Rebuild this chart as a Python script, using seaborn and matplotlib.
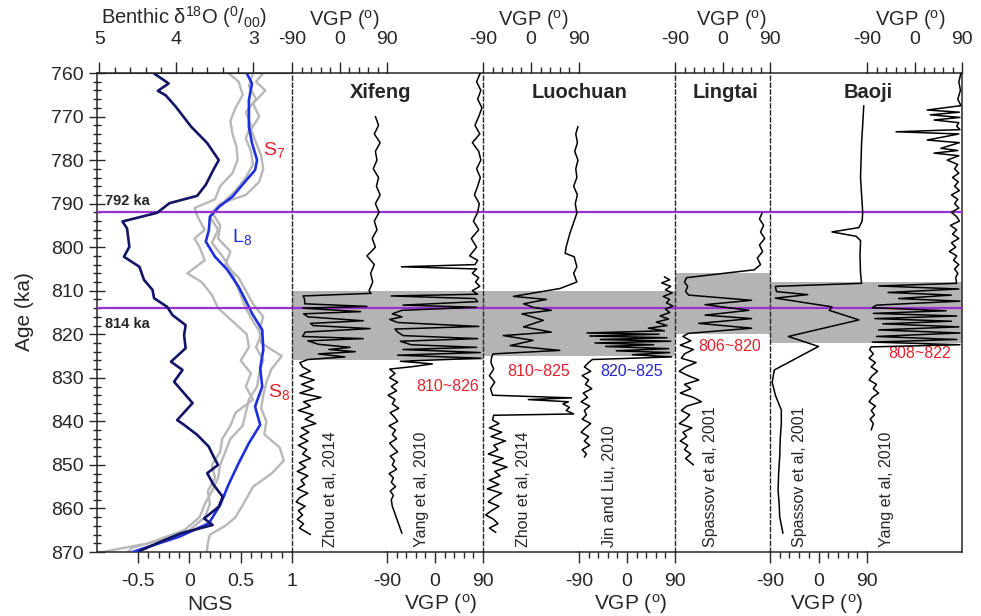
import numpy as np
import matplotlib
matplotlib.use('Agg')
import matplotlib.pyplot as plt
import seaborn as sns
from matplotlib.ticker import FixedLocator

sns.set_style('ticks')
plt.rcParams['font.family'] = ['Liberation Sans', 'DejaVu Sans']
plt.rcParams['mathtext.fontset'] = 'custom'
plt.rcParams['mathtext.rm'] = 'Liberation Sans'
plt.rcParams['mathtext.it'] = 'Liberation Sans:italic'
plt.rcParams['mathtext.bf'] = 'Liberation Sans:bold'
plt.rcParams['axes.unicode_minus'] = False

# ---- benthic d18O (top axis of left panel)
benthic_age = [760.1, 762.4, 764.1, 765.1, 767.7, 772.3, 776.1, 780.0, 781.9, 785.7, 788.2, 789.9,
               792.1, 794.1, 795.7, 799.9, 802.2, 804.5, 807.5, 809.8, 811.7, 813.7, 815.6, 817.9,
               820.2, 823.2, 826.3, 828.2, 830.9, 835.8, 839.7, 840.8, 843.1, 845.8, 848.0, 850.0,
               851.9, 854.5, 857.3, 859.6, 862.3, 863.8, 865.7, 867.6, 869.8]
benthic_d18o = [4.29, 4.10, 4.24, 4.14, 4.01, 3.81, 3.60, 3.45, 3.51, 3.62, 3.73, 4.09,
                4.25, 4.70, 4.64, 4.61, 4.68, 4.48, 4.42, 4.31, 4.29, 4.12, 4.05, 3.88,
                3.90, 3.88, 4.07, 3.92, 4.03, 3.79, 3.99, 3.90, 3.73, 3.58, 3.52, 3.46,
                3.60, 3.52, 3.40, 3.45, 3.64, 3.53, 3.94, 4.20, 4.48]

# ---- NGS stack (blue) and individual records (gray)
ngs_age = [760.1, 762.4, 766.2, 772.3, 776.1, 780.0, 782.3, 785.3, 788.4, 790.7, 793.0, 796.1,
           798.7, 802.2, 805.2, 809.1, 813.7, 815.2, 819.0, 823.6, 827.8, 832.0, 836.6, 840.8,
           845.0, 849.6, 854.6, 859.2, 863.4, 866.5, 869.5, 870.0]
ngs_mean = [0.56, 0.61, 0.58, 0.58, 0.61, 0.66, 0.64, 0.53, 0.42, 0.29, 0.20, 0.19,
            0.16, 0.25, 0.37, 0.48, 0.58, 0.61, 0.71, 0.72, 0.69, 0.71, 0.64, 0.69,
            0.58, 0.48, 0.38, 0.30, 0.19, -0.10, -0.49, -0.55]

gray1_age = [760, 762, 765, 768, 771, 774, 777, 780, 783, 786, 789, 791, 793, 796, 798, 800,
             803, 806, 808, 811, 814, 817, 820, 823, 826, 829, 832, 835, 838, 841, 844, 847,
             850, 853, 856, 859, 862, 865, 867, 869, 870]
gray1_ngs = [0.38, 0.48, 0.52, 0.45, 0.40, 0.42, 0.46, 0.47, 0.42, 0.30, 0.25, 0.05, 0.08,
             0.15, 0.05, 0.10, 0.15, -0.02, 0.12, 0.22, 0.28, 0.42, 0.56, 0.58, 0.50, 0.60,
             0.55, 0.62, 0.45, 0.40, 0.32, 0.30, 0.22, 0.25, 0.18, 0.20, 0.15, 0.00, -0.25,
             -0.55, -0.60]
gray2_age = [760, 762, 764, 767, 770, 773, 776, 779, 782, 785, 788, 790, 792, 795, 798, 801,
             804, 807, 810, 813, 816, 819, 822, 825, 828, 831, 834, 837, 840, 843, 846, 849,
             852, 855, 858, 860, 862, 864, 866, 868, 870]
gray2_ngs = [0.72, 0.65, 0.74, 0.62, 0.68, 0.60, 0.65, 0.70, 0.72, 0.68, 0.55, 0.30, 0.22,
             0.30, 0.28, 0.40, 0.35, 0.48, 0.55, 0.62, 0.72, 0.68, 0.70, 0.90, 0.80, 0.75,
             0.72, 0.70, 0.75, 0.73, 0.88, 0.92, 0.80, 0.62, 0.55, 0.50, 0.45, 0.35, 0.20,
             0.18, 0.17]
gray3_age = [760, 763, 766, 769, 772, 775, 778, 781, 784, 787, 790, 793, 796, 799, 802, 805,
             808, 811, 814, 817, 820, 823, 826, 829, 832, 835, 838, 841, 844, 847, 850, 853,
             856, 859, 862, 865, 868, 870]
gray3_ngs = [0.62, 0.58, 0.65, 0.55, 0.60, 0.55, 0.60, 0.62, 0.55, 0.45, 0.32, 0.20, 0.28,
             0.22, 0.32, 0.40, 0.45, 0.50, 0.55, 0.62, 0.70, 0.65, 0.72, 0.68, 0.66, 0.58,
             0.55, 0.52, 0.40, 0.35, 0.30, 0.28, 0.22, 0.15, 0.10, -0.05, -0.40, -0.85]

# ---- VGP records
xifeng_zhou_age = [770.0, 772, 774, 776, 778, 780, 782, 784, 786, 788, 790, 792, 794, 796, 798,
                   800, 802, 804, 806, 808, 810, 810.6, 811.2, 812.0, 813.0, 813.6, 814.0,
                   814.8, 815.3, 816.0, 816.9, 817.5, 818.0, 818.7, 819.5, 820.5, 821.0, 821.5,
                   822.3, 823.0, 823.5, 824.0, 824.5, 825.2, 825.8, 826.5, 827.5, 828.5, 829.5,
                   830.5, 831.5, 832.5, 833.5, 834.5, 835.5, 836.5, 837.5, 838.5, 839.5, 840.5,
                   841.5, 842.5, 843.5, 844.5, 845.5, 846.5, 847.5, 848.5, 849.5, 850.5, 851.5,
                   852.5, 853.5, 854.5, 855.5, 856.5, 857.5, 858.5, 859.5, 860.5, 861.5, 862.5,
                   863.5, 864.5, 866.0]
xifeng_zhou_vgp = [68, 74, 66, 77, 68, 71, 64, 74, 70, 77, 68, 75, 66, 71, 62,
                   68, 52, 66, 59, 63, 56, 60, -69, -66, -66, 52, -70,
                   40, -68, -60, 45, -55, -50, 58, -65, -70, 45, -60,
                   -40, 20, -20, 30, -40, 10, -60, -75, -70, -55, -75,
                   -48, -72, -50, -75, -35, -68, -55, -78, -50, -65, -45,
                   -72, -58, -75, -60, -78, -62, -70, -55, -76, -64, -80,
                   -60, -73, -66, -80, -60, -75, -82, -65, -78, -70, -80,
                   -68, -76, -55]

xifeng_yang_age = [760, 762, 764, 766, 768, 770, 772, 774, 776, 778, 780, 782, 784, 786, 788,
                   790, 792, 794, 796, 798, 800, 802, 803, 804, 804.5, 805, 806, 807, 808, 809,
                   810, 810.8, 811.2, 811.8, 812.5, 813.3, 813.8, 814.5, 815.3, 816.0, 816.6,
                   817.3, 818.2, 818.8, 819.5, 820.3, 821.0, 821.6, 822.4, 823.0, 823.5, 824.2,
                   824.8, 825.5, 826.2, 826.8, 827.4, 828, 829, 830, 831, 832, 833, 834, 835,
                   836, 837, 838, 839, 840, 841, 842, 843, 844, 845, 846, 847, 848, 849, 850,
                   851, 852, 853, 854, 855, 856, 857, 858, 859.5, 865.7]
xifeng_yang_vgp = [85, 78, 86, 80, 88, 82, 75, 84, 70, 82, 86, 78, 85, 80, 74,
                   83, 80, 72, 82, 68, 78, 65, 80, 75, -63, 78, 70, 82, 76, 84,
                   70, 80, -82, 75, 80, -60, 78, -62, -80, -62, -85,
                   -70, 82, -75, -70, -60, 80, -65, -45, 78, -60, 85,
                   -70, 86, -65, -5, -40, -85, -75, -85, -70, -82, -72, -88, -75,
                   -80, -68, -84, -76, -70, -86, -74, -80, -72, -85, -78, -70, -84, -76, -80,
                   -72, -86, -78, -82, -74, -84, -78, -82, -80, -62]

luochuan_zhou_age = [772.3, 774, 776, 778, 780, 782, 784, 786, 788, 790, 792.2, 796.8, 799.9,
                     801.4, 802.2, 804.5, 806.0, 808.0, 809.5, 810.2, 811.3, 812.0, 813.0,
                     813.8, 814.5, 815.3, 816.8, 818.3, 819.5, 820.3, 821.4, 822.6, 823.7,
                     824.5, 825.3, 826.5, 828, 829.5, 831, 832.5, 834.0, 834.6, 835.0, 835.5,
                     836.0, 836.8, 837.5, 838.3, 838.6, 839.7, 840.5, 841.5, 842.5, 843.5,
                     844.5, 845.5, 846.5, 847.5, 848.5, 849.5, 850.5, 851.5, 852.5, 853.5,
                     854.5, 855.5, 856.5, 857.5, 858.5, 859.5, 860.5, 861.5, 862.5, 863.5,
                     864.5, 865.5]
luochuan_zhou_vgp = [88, 84, 87, 82, 88, 84, 86, 80, 87, 83, 86, 73, 66,
                     64, 81, 86, 80, 86, 54, 20, -33, 29, -14,
                     4, 38, -17, 23, -14, 38, -52, 4, -39, 54,
                     -71, -74, -75, -70, -78, -68, -76, -72, 76, -5, 70,
                     60, 72, 66, 80, -70, -72, -60, -78, -55, -75,
                     -48, -70, -62, -80, -52, -72, -45, -68, -58, -78,
                     -60, -82, -55, -70, -80, -60, -74, -85, -70, -62,
                     -78, -66]

luochuan_jin_age = [806.8, 807.5, 808.2, 809.0, 809.8, 810.5, 811.3, 812.0, 812.8, 813.5, 814.2,
                    815.0, 815.8, 816.5, 817.2, 818.0, 818.6, 819.2, 819.7, 820.0, 820.4, 820.8,
                    821.2, 821.6, 822.0, 822.4, 822.8, 823.3, 823.8, 824.2, 824.7, 825.2, 825.8,
                    826.5, 827.5, 828.5, 829.5, 830.5, 831.5, 832.5, 833.5, 834.5, 835.5, 836.5,
                    837.5, 838.5, 839.5, 840.5, 841.5, 842.5, 843.5, 844.5, 845.5, 846.5, 847.5,
                    848.2]
luochuan_jin_vgp = [70, 80, 65, 82, 72, 85, 68, 80, 74, 86, 72,
                    80, 62, 78, 55, 75, 40, 70, -75, 60, -70, 75,
                    -50, 82, -60, 50, -40, 78, -20, 80, 10, 84, -65,
                    -72, -80, -68, -84, -72, -78, -66, -82, -74, -86, -70,
                    -80, -76, -84, -68, -78, -86, -72, -80, -70, -84, -76,
                    -80]

lingtai_age = [792.2, 793.5, 795, 796.5, 798, 799.5, 801, 802.5, 804, 805.2, 807.0, 808.0, 809.0,
               810.2, 811.0, 812.2, 813.2, 814.5, 815.6, 816.4, 817.5, 818.6, 819.8, 820.5,
               821.5, 822.5, 823.5, 824.5, 825.5, 826.5, 827.5, 828.5, 829.5, 830.5, 831.5,
               832.5, 833.5, 834.5, 835.5, 836.5, 837.5, 838.5, 839.5, 840.5, 841.5, 842.5,
               843.5, 844.5, 845.5, 846.5, 847.5, 848.5, 850.0]
lingtai_vgp = [75, 70, 78, 72, 80, 70, 76, 66, 72, 60, -68, -72, -66,
               -70, -64, 55, -33, 50, -33, 55, -45, 55, -65, -75,
               -60, -80, -55, -72, -78, -50, -70, -82, -65, -45, -72,
               -60, -80, -55, -40, -68, -78, -62, -70, -82, -58, -75,
               -68, -80, -66, -72, -60, -70, -55]

baoji_spassov_age = [767.5, 772, 776, 780, 784, 788, 792, 794, 795.5, 796.5, 797.5, 798.5, 802,
                     806, 808.3, 809.0, 810.2, 810.9, 811.7, 813.7, 814.5, 816.7, 820.5, 822.8,
                     828.2, 831, 834, 837.4, 840.4, 844, 848.1, 852, 855.8, 859, 861.9, 865.7]
baoji_spassov_vgp = [84, 82, 80, 79, 78, 80, 82, 81, 75, 25, 70, 78, 77,
                     78, 80, -80, -78, -20, -80, 25, 20, 75, -56, 0,
                     -82, -86, -80, -69, -69, -71, -72, -74, -75, -73, -72, -66]

baoji_yang_age = [760, 762, 764, 766, 767.5, 768.5, 769.0, 769.6, 770.2, 770.8, 771.4, 772.2,
                  773.0, 773.5, 774.0, 775.4, 776.0, 777.3, 777.8, 778.4, 779.0, 780.0, 781,
                  782, 783, 784, 785, 786, 787, 788, 789, 790, 791, 792, 793, 794, 795, 796,
                  797, 798, 799, 800, 801, 802, 803, 804, 805, 806, 807, 808.3, 808.9, 809.6,
                  810.4, 811.0, 811.8, 812.4, 813.3, 813.9, 814.6, 815.2, 815.8, 816.4, 817.0,
                  817.6, 818.3, 819.0, 819.7, 820.5, 821.2, 821.8, 822.4, 822.9, 823.5, 824.5,
                  825.5, 826.5, 827.5, 828.5, 829.5, 830.5, 831.5, 832.5, 833.5, 834.5, 835.5,
                  836.5, 837.5, 838.5, 839.5, 840.5, 842]
baoji_yang_vgp = [88, 84, 87, 82, 88, 24, 85, 30, 86, 37, 84, 80,
                  86, -35, 84, 24, 85, 50, 82, 37, 84, 62, 82,
                  76, 84, 72, 83, 76, 85, 70, 82, 76, 84, 70, 80, 85, 68, 80,
                  72, 84, 70, 78, 66, 80, 74, 84, 76, 82, 78, 80, -68, 84,
                  -50, 70, -30, 86, -72, -80, 60, -78, 80, -75, 70,
                  -60, 84, -68, 86, -72, 80, -80, 86, -82, -85, -78,
                  -86, -74, -82, -70, -80, -86, -72, -78, -68, -80, -86,
                  -74, -82, -76, -84, -78, -82]

transition_bands = {'xifeng': (810, 826), 'luochuan': (810, 825), 'lingtai': (806, 820), 'baoji': (808, 822)}
marker_ages = [792, 814]

# ---- layout (pixel grid of the original figure)
W, H = 981, 616
fig = plt.figure(figsize=(W / 100, H / 100), dpi=100)
tracks = [(97, 292), (292, 387), (387, 483), (483, 579), (579, 675), (675, 770), (770, 867), (867, 962)]
axes = []
for a, b in tracks:
    ax = fig.add_axes([a / W, 1 - 552 / H, (b - a) / W, 479 / H], sharey=axes[0] if axes else None)
    axes.append(ax)

ax_ngs = axes[0]
ax_ben = ax_ngs.twiny()

red = '#e4222b'
blue = '#1f2fe0'
navy = '#121466'
grey = '#b8b8b8'
purple = '#9b30d0'
band_grey = '#b4b4b4'
TICK = 14
LAB = 14.5

# ---- left panel
for ag, val in [(gray1_age, gray1_ngs), (gray2_age, gray2_ngs), (gray3_age, gray3_ngs)]:
    sns.lineplot(x=val, y=ag, ax=ax_ngs, sort=False, estimator=None, color=grey, linewidth=1.7, zorder=2)
sns.lineplot(x=ngs_mean, y=ngs_age, ax=ax_ngs, sort=False, estimator=None, color=blue, linewidth=1.9, zorder=3)
sns.lineplot(x=benthic_d18o, y=benthic_age, ax=ax_ben, sort=False, estimator=None, color=navy, linewidth=1.9)

ax_ngs.set_xlim(-0.9, 1.0)
ax_ngs.set_xticks([-0.5, 0, 0.5, 1])
ax_ngs.set_xticklabels(['-0.5', '0', '0.5', '1'])
ax_ngs.xaxis.set_minor_locator(FixedLocator([-0.4, -0.3, -0.2, -0.1, 0.1, 0.2, 0.3, 0.4,
                                             0.6, 0.7, 0.8, 0.9]))
ax_ngs.tick_params(axis='x', which='both', top=False, bottom=True, labelbottom=True, labeltop=False)

ax_ben.set_xlim(5.03, 2.5)
ax_ben.set_xticks([5, 4, 3])
ax_ben.set_xticklabels(['5', '4', '3'])
ax_ben.xaxis.set_minor_locator(FixedLocator([4.8, 4.6, 4.4, 4.2, 3.8, 3.6, 3.4, 3.2]))
ax_ben.tick_params(axis='x', which='both', top=True, bottom=False, labeltop=True, labelbottom=False)
for s in ['left', 'right', 'bottom']:
    ax_ben.spines[s].set_visible(False)
ax_ben.set_xlabel('')

# ---- VGP panels
records = [(xifeng_zhou_age, xifeng_zhou_vgp, 'top'),
           (xifeng_yang_age, xifeng_yang_vgp, 'bottom'),
           (luochuan_zhou_age, luochuan_zhou_vgp, 'top'),
           (luochuan_jin_age, luochuan_jin_vgp, 'bottom'),
           (lingtai_age, lingtai_vgp, 'top'),
           (baoji_spassov_age, baoji_spassov_vgp, 'bottom'),
           (baoji_yang_age, baoji_yang_vgp, 'top')]
site_of_track = ['xifeng', 'xifeng', 'luochuan', 'luochuan', 'lingtai', 'baoji', 'baoji']

for ax, (ag, vgp, side), site in zip(axes[1:], records, site_of_track):
    lo, hi = transition_bands[site]
    ax.axhspan(lo, hi, color=band_grey, lw=0, zorder=1)
    sns.lineplot(x=vgp, y=ag, ax=ax, sort=False, estimator=None, color='black', linewidth=1.1, zorder=4)
    ax.set_xlim(-90, 90)
    ax.set_xticks([-90, 0, 90])
    ax.set_xticklabels(['-90', '0', '90'])
    ax.xaxis.set_minor_locator(FixedLocator([-72, -54, -36, -18, 18, 36, 54, 72]))
    top = side == 'top'
    ax.tick_params(axis='x', which='both', top=top, bottom=not top, labeltop=top, labelbottom=not top)
    ax.tick_params(axis='y', which='both', left=False, right=False, labelleft=False)

for ax in axes:
    for m in marker_ages:
        ax.axhline(m, color=purple, lw=1.6, zorder=3)
    ax.set_xlabel('')
    ax.set_ylabel('')
    ax.set_facecolor('none')
    ax.spines['right'].set_visible(False)
    for s in ['top', 'bottom', 'left']:
        ax.spines[s].set_linewidth(1.1)

for ax in axes + [ax_ben]:
    ax.tick_params(axis='x', which='major', length=8, width=1.0, labelsize=TICK, direction='out')
    ax.tick_params(axis='x', which='minor', length=4, width=1.0, direction='out')
# top tick labels sit a little further from the frame than bottom ones
ax_ben.tick_params(axis='x', which='major', pad=10)
for i in [1, 3, 5, 7]:
    axes[i].tick_params(axis='x', which='major', pad=10)
for i in [0, 2, 4, 6]:
    axes[i].tick_params(axis='x', which='major', pad=7)

# dashed site separators, hidden inner borders
for i in [1, 3, 5, 6]:
    axes[i].spines['left'].set_linestyle((0, (3, 2)))
    axes[i].spines['left'].set_linewidth(1.0)
for i in [2, 4, 7]:
    axes[i].spines['left'].set_visible(False)
axes[7].spines['right'].set_visible(True)
axes[7].spines['right'].set_linewidth(1.1)

ax_ngs.set_ylim(870, 760)
ax_ngs.set_yticks(np.arange(760, 871, 10))
ax_ngs.yaxis.set_minor_locator(FixedLocator(np.arange(760, 871, 2)))
ax_ngs.tick_params(axis='y', which='major', direction='inout', length=11, width=1.0, labelsize=TICK, pad=4)
ax_ngs.tick_params(axis='y', which='minor', direction='inout', length=6, width=1.0)

# ---- annotations inside the panels
ax_ngs.text(-0.82, 790.4, '792 ka', fontsize=10.5, fontweight='bold', va='baseline')
ax_ngs.text(-0.82, 818.6, '814 ka', fontsize=10.5, fontweight='bold', va='baseline')
ax_ngs.text(0.72, 778.8, 'S$_{7}$', color=red, fontsize=14, va='baseline')
ax_ngs.text(0.42, 798.8, 'L$_{8}$', color=blue, fontsize=14, va='baseline')
ax_ngs.text(0.77, 834.4, 'S$_{8}$', color=red, fontsize=14, va='baseline')

axes[2].text(24, 831.9, '810~826', color=red, fontsize=11.5, ha='center', va='center', clip_on=False)
axes[3].text(15, 828.5, '810~825', color=red, fontsize=11.5, ha='center', va='center', clip_on=False)
axes[4].text(9, 828.5, '820~825', color='#2424d4', fontsize=11.5, ha='center', va='center', clip_on=False)
axes[5].text(13, 822.7, '806~820', color=red, fontsize=11.5, ha='center', va='center', clip_on=False)
axes[7].text(9, 824.5, '808~822', color=red, fontsize=11.5, ha='center', va='center', clip_on=False)

cites = [(1, -17, 'Zhou et al, 2014'), (2, -26, 'Yang et al, 2010'), (3, -15, 'Zhou et al, 2014'),
         (4, -32, 'Jin and Liu, 2010'), (5, -22, 'Spassov et al, 2001'),
         (6, -36, 'Spassov et al, 2001'), (7, -54, 'Yang et al, 2010')]
for i, xv, txt in cites:
    axes[i].text(xv, 868.8, txt, rotation=90, fontsize=11.5, ha='center', va='bottom', clip_on=False)

# ---- labels outside, in figure pixels
def ftext(px, py, s, **kw):
    fig.text(px / W, 1 - py / H, s, ha='center', va='center', **kw)

ftext(184, 17, 'Benthic δ$^{18}$O ($^{0}$/$_{00}$)', fontsize=LAB)
for px in [344, 533, 731, 910]:
    ftext(px, 20, 'VGP ($^{\\mathrm{o}}$)', fontsize=LAB)
ftext(210, 604, 'NGS', fontsize=15)
for px in [441, 631, 827]:
    ftext(px, 604, 'VGP ($^{\\mathrm{o}}$)', fontsize=15)
ftext(25, 312, 'Age (ka)', fontsize=15, rotation=90)
for px, name in [(381, 'Xifeng'), (580, 'Luochuan'), (725, 'Lingtai'), (868, 'Baoji')]:
    ftext(px, 93, name, fontsize=14.5, fontweight='bold')

fig.savefig('out.png', dpi=100)
